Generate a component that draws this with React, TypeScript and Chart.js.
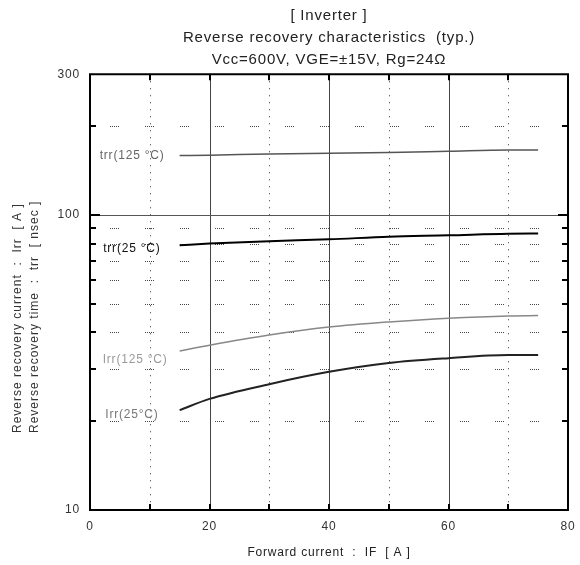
import React, { useEffect, useRef } from "react";
import { Chart, registerables } from "chart.js";

Chart.register(...registerables);

const FONT = "'Liberation Sans', Arial, Helvetica, sans-serif";
const LETTER_SPACING = "0.8px";

const titleLines = [
  "[ Inverter ]",
  "Reverse recovery characteristics  (typ.)",
  "Vcc=600V, VGE=±15V, Rg=24Ω",
];
const xAxisTitle = "Forward current  :  IF  [ A ]";
const yAxisTitleOuter = "Reverse recovery current  :  Irr  [ A ]";
const yAxisTitleInner = "Reverse recovery time  :  trr  [ nsec ]";

const xMin = 0;
const xMax = 80;
const yMin = 10;
const yMax = 300;
const xSolidGrid = [20, 40, 60];
const xDottedGrid = [10, 30, 50, 70];
const yTickValues = [10, 20, 30, 40, 50, 60, 70, 80, 90, 100, 200, 300];
const yLabelValues = [10, 100, 300];
const ySolidGrid = [100];
const yDottedGrid = [20, 30, 40, 50, 60, 70, 80, 90, 200];

const currentA = [15, 20, 30, 40, 50, 60, 70, 75];
const trr125 = [159, 159.5, 161, 162, 163, 164.5, 166, 166];
const trr25 = [79, 80, 81.5, 82.7, 84.4, 85.3, 86.4, 86.5];
const irr125 = [34.6, 36.2, 39.2, 41.7, 43.4, 44.7, 45.5, 45.6];
const irr25 = [21.8, 23.8, 26.7, 29.4, 31.5, 32.7, 33.5, 33.5];

const seriesLabels = ["trr(125 °C)", "trr(25 °C)", "Irr(125 °C)", "Irr(25°C)"];

const toPoints = (ys: number[]) => currentA.map((x, i) => ({ x, y: ys[i] }));

const labelStyles = [
  { color: "#666", dx: -15, dy: 0 },
  { color: "#111", dx: -19, dy: 3 },
  { color: "#9a9a9a", dx: -12, dy: 9 },
  { color: "#777", dx: -21, dy: 5 },
];

const setSpacing = (chart: any) => {
  try {
    chart.ctx.letterSpacing = LETTER_SPACING;
  } catch (e) {
    /* ignore */
  }
};

const frameGridPlugin = {
  id: "frameGrid",
  beforeInit: setSpacing,
  beforeUpdate: setSpacing,
  beforeLayout: setSpacing,
  beforeDraw: setSpacing,
  beforeDatasetsDraw(chart: any) {
    const { ctx, chartArea, scales } = chart;
    const { left, right, top, bottom } = chartArea;
    const xs = scales.x;
    const ys = scales.y;
    ctx.save();
    // horizontal dotted segments
    ctx.strokeStyle = "#444";
    ctx.lineWidth = 1;
    ctx.setLineDash([1, 1, 1, 1, 1, 1, 1, 1, 1, 26]);
    ctx.lineDashOffset = 15;
    yDottedGrid.forEach((v) => {
      const py = Math.round(ys.getPixelForValue(v)) + 0.5;
      ctx.beginPath();
      ctx.moveTo(left, py);
      ctx.lineTo(right, py);
      ctx.stroke();
    });
    // vertical dotted
    ctx.strokeStyle = "#333";
    ctx.setLineDash([1, 6]);
    ctx.lineDashOffset = 0;
    xDottedGrid.forEach((v) => {
      const px = Math.round(xs.getPixelForValue(v)) + 0.5;
      ctx.beginPath();
      ctx.moveTo(px, top);
      ctx.lineTo(px, bottom);
      ctx.stroke();
    });
    ctx.setLineDash([]);
    // vertical solid
    ctx.strokeStyle = "#444";
    xSolidGrid.forEach((v) => {
      const px = Math.round(xs.getPixelForValue(v)) + 0.5;
      ctx.beginPath();
      ctx.moveTo(px, top);
      ctx.lineTo(px, bottom);
      ctx.stroke();
    });
    // horizontal solid
    ctx.strokeStyle = "#555";
    ySolidGrid.forEach((v) => {
      const py = Math.round(ys.getPixelForValue(v)) + 0.5;
      ctx.beginPath();
      ctx.moveTo(left, py);
      ctx.lineTo(right, py);
      ctx.stroke();
    });
    ctx.restore();
  },
  afterDatasetsDraw(chart: any) {
    const { ctx, chartArea, scales } = chart;
    const { left, right, top, bottom } = chartArea;
    const xs = scales.x;
    const ys = scales.y;
    ctx.save();
    // frame
    ctx.strokeStyle = "#000";
    ctx.lineWidth = 2;
    ctx.strokeRect(left, top, right - left, bottom - top);
    // inward ticks
    [...yDottedGrid, ...ySolidGrid].forEach((v) => {
      const py = Math.round(ys.getPixelForValue(v));
      const len = ySolidGrid.includes(v) ? 10 : 6;
      ctx.beginPath();
      ctx.moveTo(left, py);
      ctx.lineTo(left + len, py);
      ctx.moveTo(right, py);
      ctx.lineTo(right - len, py);
      ctx.stroke();
    });
    [...xDottedGrid, ...xSolidGrid].forEach((v) => {
      const px = Math.round(xs.getPixelForValue(v));
      ctx.beginPath();
      ctx.moveTo(px, top);
      ctx.lineTo(px, top + 6);
      ctx.moveTo(px, bottom);
      ctx.lineTo(px, bottom - 6);
      ctx.stroke();
    });
    // series labels
    ctx.font = `12px ${FONT}`;
    ctx.textAlign = "right";
    ctx.textBaseline = "middle";
    chart.data.datasets.forEach((ds: any, i: number) => {
      const p0 = ds.data[0];
      const st = labelStyles[i];
      ctx.fillStyle = st.color;
      ctx.fillText(
        seriesLabels[i],
        xs.getPixelForValue(p0.x) + st.dx,
        ys.getPixelForValue(p0.y) + st.dy
      );
    });
    // y axis titles
    ctx.fillStyle = "#333";
    ctx.textAlign = "left";
    ctx.textBaseline = "middle";
    try {
      ctx.letterSpacing = "1px";
    } catch (e) {
      /* ignore */
    }
    ctx.save();
    ctx.translate(18, 433);
    ctx.rotate(-Math.PI / 2);
    ctx.fillText(yAxisTitleOuter, 0, 0);
    ctx.restore();
    ctx.save();
    ctx.translate(35, 433);
    ctx.rotate(-Math.PI / 2);
    ctx.fillText(yAxisTitleInner, 0, 0);
    ctx.restore();
    ctx.restore();
  },
};

export default function App() {
  const canvasRef = useRef<HTMLCanvasElement | null>(null);

  useEffect(() => {
    const canvas = canvasRef.current;
    if (!canvas) return;
    const font = { family: FONT, size: 12, weight: "normal" as const };
    const chart = new Chart(canvas, {
      type: "line",
      data: {
        datasets: [
          { data: toPoints(trr125), borderColor: "#555", borderWidth: 1.5 },
          { data: toPoints(trr25), borderColor: "#000", borderWidth: 2 },
          { data: toPoints(irr125), borderColor: "#888", borderWidth: 1.5 },
          { data: toPoints(irr25), borderColor: "#222", borderWidth: 2 },
        ].map((d) => ({
          ...d,
          pointRadius: 0,
          fill: false,
          tension: 0.3,
          cubicInterpolationMode: "monotone" as const,
        })),
      },
      options: {
        animation: false,
        responsive: false,
        maintainAspectRatio: false,
        events: [],
        layout: { padding: { left: 0, right: 12, top: 0, bottom: 0 } },
        plugins: {
          legend: { display: false },
          tooltip: { enabled: false },
          title: {
            display: true,
            fullSize: false,
            text: titleLines,
            color: "#222",
            font: { family: FONT, size: 15, weight: "normal", lineHeight: 1.45 },
            padding: { top: 5, bottom: 4 },
          },
        },
        scales: {
          x: {
            type: "linear",
            min: xMin,
            max: xMax,
            afterFit: (s: any) => {
              s.height = 55;
              s.paddingRight = 0;
              s.paddingLeft = 0;
            },
            grid: { display: false, drawTicks: false },
            border: { display: false },
            ticks: { stepSize: 20, padding: 9, font, color: "#333", maxRotation: 0 },
            title: {
              display: true,
              text: xAxisTitle,
              font,
              color: "#222",
              padding: { top: 4, bottom: 5 },
            },
          },
          y: {
            type: "logarithmic",
            min: yMin,
            max: yMax,
            afterFit: (s: any) => {
              s.width = 90;
            },
            afterBuildTicks: (s: any) => {
              s.ticks = yTickValues.map((v) => ({ value: v }));
            },
            grid: { display: false, drawTicks: false },
            border: { display: false },
            ticks: {
              autoSkip: false,
              padding: 10,
              font,
              color: "#333",
              callback: (v: any) => (yLabelValues.includes(Number(v)) ? String(v) : ""),
            },
          },
        },
      },
      plugins: [frameGridPlugin],
    });
    return () => chart.destroy();
  }, []);

  return (
    <div
      style={{
        position: "fixed",
        left: 0,
        top: 0,
        width: 580,
        height: 565,
        background: "#fff",
      }}
    >
      <canvas ref={canvasRef} width={580} height={565} />
    </div>
  );
}
